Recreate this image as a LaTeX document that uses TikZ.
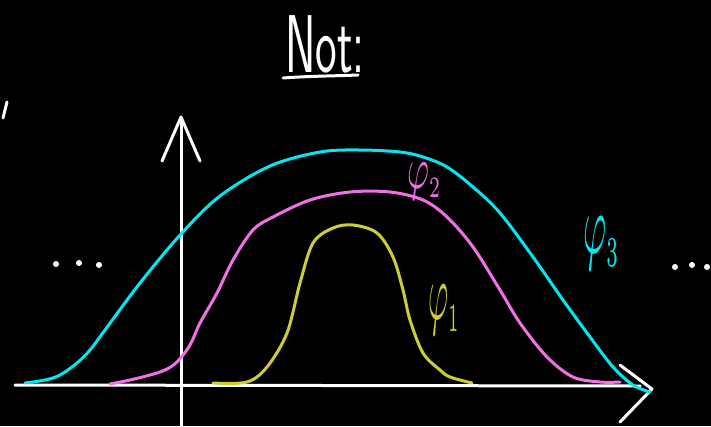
\documentclass[tikz,border=0pt]{standalone}
\usepackage{graphicx}
\definecolor{cyanc}{RGB}{0,232,240}
\definecolor{magc}{RGB}{240,112,230}
\definecolor{yelc}{RGB}{205,205,52}
\tikzset{
  axis/.style={white, line width=3pt, line cap=round, line join=round},
  curve/.style={line width=3pt, line cap=round, line join=round},
  lbl/.style={inner sep=0pt, outer sep=0pt},
  dotc/.style={white, fill=white},
}
\begin{document}
\begin{tikzpicture}[x=1pt,y=-1pt]
\fill[black] (0,0) rectangle (711,426);
\useasboundingbox (0,0) rectangle (711,426);
% title
\node[lbl, white, anchor=base, xscale=0.56] (title) at (325,72) {\fontsize{82}{82}\selectfont\sffamily Not:};
\draw[axis] (283,78) .. controls (310,76) and (335,76) .. (358,75);
% small tick at top-left
\draw[axis] (7,102) -- (3,118);
% axes
\draw[axis] (15,385) -- (640,386);
\draw[axis] (620,365) -- (652,389) -- (620,422);
\draw[axis] (181,426) -- (181,118);
\draw[axis] (162,161) -- (181,117) -- (200,161);
% curves
\draw[curve, cyanc] plot[smooth, tension=0.55] coordinates {
 (25,383) (45,380) (60,375) (77,363) (90,350) (105,330) (140,283) (181,234)
 (220,196) (270,166) (320,152) (360,150) (400,152) (423,157) (447,167) (473,187)
 (500,213) (533,257) (563,300) (590,337) (613,367) (633,385) (650,392)};
\draw[curve, magc] plot[smooth, tension=0.55] coordinates {
 (110,384) (130,380) (150,375) (165,370) (177,362) (190,345) (200,323) (217,293)
 (233,260) (253,230) (273,217) (310,200) (350,192) (390,192) (423,200) (447,217)
 (473,247) (500,290) (520,323) (547,357) (573,377) (600,382) (620,382)};
\draw[curve, yelc] plot[smooth, tension=0.55] coordinates {
 (213,383) (247,382) (267,367) (287,333) (300,283) (313,243) (333,228) (353,225)
 (377,233) (393,257) (403,290) (410,320) (423,353) (440,370) (450,377) (472,383)};
% labels
\node[lbl, magc] (phi2) at (424.5,181.5) {\resizebox*{35pt}{37pt}{$\varphi_{\scriptscriptstyle 2}$}};
\node[lbl, cyanc] (phi3) at (601.5,243.5) {\resizebox*{37pt}{53pt}{$\varphi_{\scriptscriptstyle 3}$}};
\node[lbl, yelc] (phi1) at (444,310) {\resizebox*{32pt}{50pt}{$\varphi_{\scriptscriptstyle 1}$}};
% dots
\foreach \x/\y in {56/264, 79/263, 99/265, 675/267, 692/265, 707/267}
  \fill[dotc] (\x,\y) circle (3pt);
\end{tikzpicture}
\end{document}
